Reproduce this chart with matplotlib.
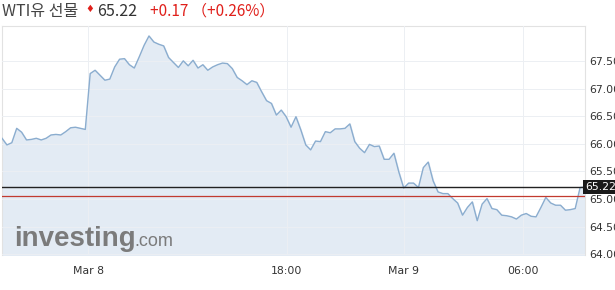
import numpy as np
import matplotlib
matplotlib.use('Agg')
import matplotlib.pyplot as plt

# WTI price, 15 min steps
prices = [66.10, 65.98, 66.02, 66.28, 66.21, 66.07, 66.08, 66.10, 66.07, 66.10,
          66.16, 66.17, 66.16, 66.22, 66.29, 66.30, 66.28, 66.26, 67.27, 67.33,
          67.24, 67.15, 67.17, 67.39, 67.53, 67.54, 67.43, 67.37, 67.57, 67.78,
          67.95, 67.84, 67.80, 67.77, 67.56, 67.47, 67.38, 67.50, 67.41, 67.51,
          67.37, 67.43, 67.33, 67.39, 67.43, 67.46, 67.45, 67.36, 67.20, 67.14,
          67.07, 67.14, 67.11, 66.94, 66.78, 66.73, 66.52, 66.61, 66.49, 66.30,
          66.49, 66.25, 65.98, 65.89, 66.05, 66.04, 66.22, 66.20, 66.27, 66.27,
          66.28, 66.36, 66.04, 65.92, 65.84, 65.99, 65.95, 65.96, 65.72, 65.72,
          65.83, 65.49, 65.20, 65.29, 65.29, 65.21, 65.57, 65.67, 65.33, 65.13,
          65.10, 65.10, 65.01, 64.93, 64.71, 64.85, 64.95, 64.61, 64.91, 65.01,
          64.83, 64.81, 64.71, 64.70, 64.68, 64.64, 64.71, 64.74, 64.69, 64.68,
          64.85, 65.03, 64.93, 64.89, 64.89, 64.80, 64.81, 64.83, 65.21, 65.22]
last_price = 65.22
change = 0.17
change_pct = 0.26
prev_close = last_price - change

xtick_pos = [17.6, 58.1, 82.0, 106.3]
xtick_labels = ['Mar 8', '18:00', 'Mar 9', '06:00']
yticks = [64.0, 64.5, 65.0, 65.5, 66.0, 66.5, 67.0, 67.5]

x = np.arange(len(prices))
ymin, ymax = 63.99, 68.13

fig = plt.figure(figsize=(6.15, 2.9), dpi=100)
ax = fig.add_axes([2/615, 35/290, 583/615, 229/290])

ax.fill_between(x, prices, ymin, color='#e3ebf4', zorder=1)
ax.plot(x, prices, color='#8badcf', lw=1.0, zorder=3)
ax.axhline(last_price, color='#222222', lw=1.0, zorder=4)
ax.axhline(prev_close, color='#c23a2f', lw=0.9, zorder=4)

ax.set_xlim(0, len(prices) - 1)
ax.set_ylim(ymin, ymax)
ax.set_xticks(xtick_pos)
ax.set_xticklabels(xtick_labels)
ax.set_yticks(yticks)
ax.set_yticklabels(['%.2f' % v for v in yticks])
ax.yaxis.tick_right()
ax.tick_params(axis='both', length=0, labelsize=7.8, labelcolor='#333333')
ax.tick_params(axis='y', pad=3)
ax.tick_params(axis='x', pad=8)
ax.grid(True, color='#eceff3', lw=0.7, zorder=2)
ax.set_axisbelow(False)
for s in ['top', 'left', 'right']:
    ax.spines[s].set_color('#e2e2e2')
    ax.spines[s].set_linewidth(0.8)
ax.spines['bottom'].set_visible(False)

# last price tag
ax.text(1.0, last_price, '%.2f' % last_price, transform=ax.get_yaxis_transform(),
        ha='left', va='center', fontsize=7.8, color='white', clip_on=False, zorder=6,
        bbox=dict(boxstyle='square,pad=0.15', fc='#1a1a1a', ec='none'))

# watermark
fig.text(14/615, 1 - 246/290, 'investing', fontsize=20, fontweight='bold', color='#7b7b7b',
         family='Liberation Sans', va='baseline')
fig.text(134/615, 1 - 246/290, '.com', fontsize=13, color='#7b7b7b',
         family='Liberation Sans', va='baseline')

# header
kr = ['Noto Sans CJK KR', 'DejaVu Sans']
fig.text(2/615, 1 - 16/290, 'WTI유 선물', fontsize=11.5, color='#444444', family=kr, va='baseline')
fig.text(85/615, 1 - 12/290, '\u2666', fontsize=7, color='#e0201b', family='DejaVu Sans', va='baseline')
fig.text(97/615, 1 - 16/290, '%.2f' % last_price, fontsize=11.5, color='#333333', family=kr, va='baseline')
fig.text(150/615, 1 - 16/290, '+%.2f \uff08+%.2f%%\uff09' % (change, change_pct), fontsize=11,
         color='#e0201b', family=kr, va='baseline')

fig.savefig('out.png', dpi=100)
